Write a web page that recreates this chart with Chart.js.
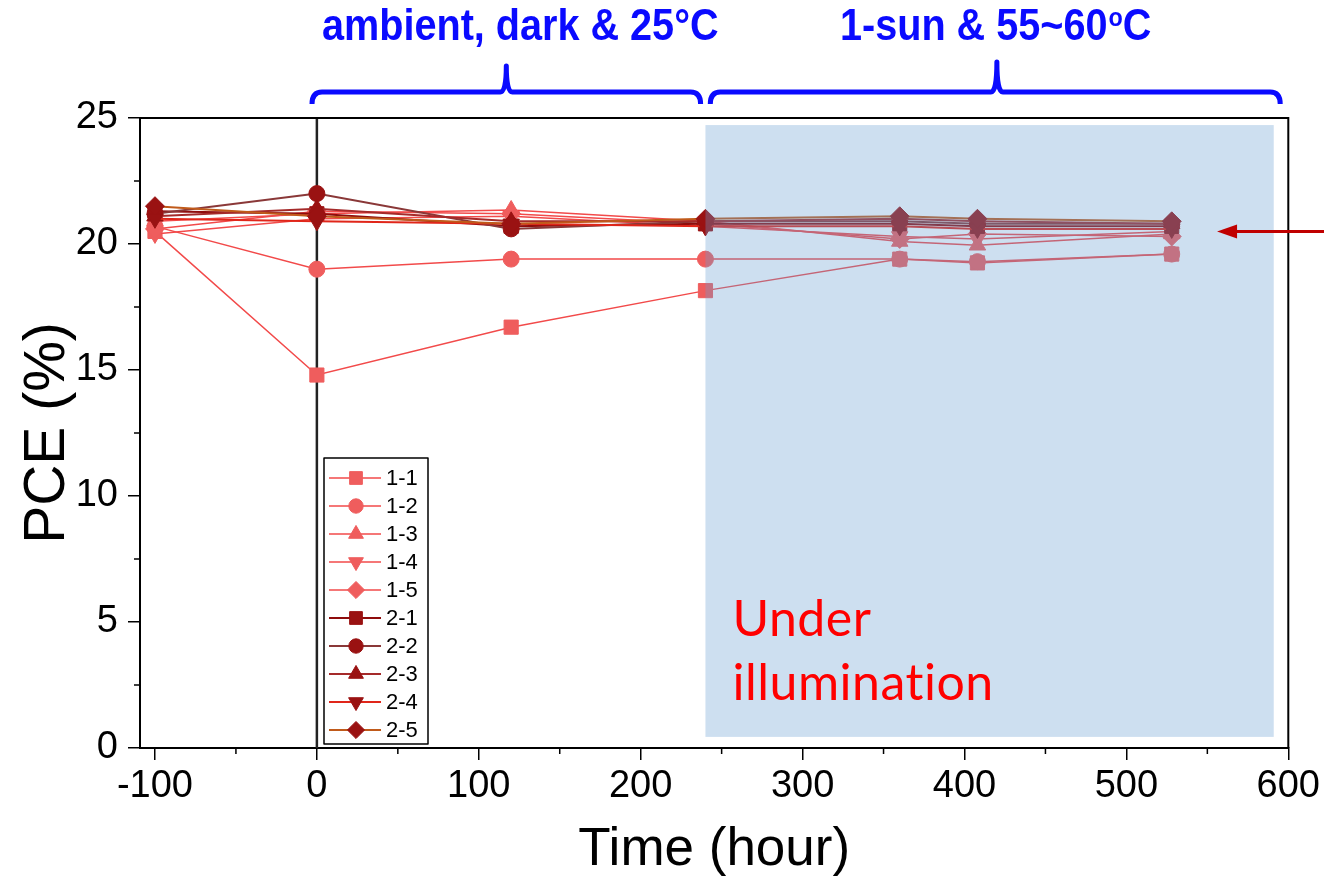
<!DOCTYPE html>
<html>
<head>
<meta charset="utf-8">
<script src="https://cdn.jsdelivr.net/npm/chart.js@4.4.1/dist/chart.umd.min.js"></script>
<style>
  html, body { margin: 0; padding: 0; background: #fff; }
</style>
</head>
<body>
<canvas id="pceChart" width="1324" height="884"></canvas>
<script>
// time points (hour)
const hours = [-100, 0, 120, 240, 360, 408, 528];

// PCE (%) per cell
const pce11 = [20.5, 14.8, 16.7, 18.15, 19.4, 19.25, 19.6];
const pce12 = [20.7, 19.0, 19.4, 19.4, 19.4, 19.3, 19.6];
const pce13 = [20.9, 21.2, 21.35, 20.9, 20.1, 19.95, 20.4];
const pce14 = [20.4, 21.0, 21.1, 20.7, 20.3, 20.2, 20.5];
const pce15 = [20.6, 21.3, 21.2, 20.8, 20.2, 20.4, 20.3];
const pce21 = [21.3, 21.2, 20.7, 20.8, 20.8, 20.7, 20.7];
const pce22 = [21.2, 22.0, 20.6, 20.9, 20.9, 20.8, 20.8];
const pce23 = [21.1, 21.4, 20.9, 20.9, 21.0, 20.9, 20.8];
const pce24 = [21.0, 20.9, 20.8, 20.7, 20.7, 20.6, 20.6];
const pce25 = [21.5, 21.1, 20.8, 21.0, 21.1, 21.0, 20.9];

const cellNames = ["1-1", "1-2", "1-3", "1-4", "1-5", "2-1", "2-2", "2-3", "2-4", "2-5"];
const cellValues = [pce11, pce12, pce13, pce14, pce15, pce21, pce22, pce23, pce24, pce25];

const xTicks = [-100, 0, 100, 200, 300, 400, 500, 600];
const yTicks = [0, 5, 10, 15, 20, 25];

// styles
const markerShapes = ["rect", "circle", "triangle", "triangle", "rectRot"];
const markerRot = [0, 0, 0, 180, 0];
const lineColors = ["#f24a4a", "#f24a4a", "#f24a4a", "#f24a4a", "#f24a4a",
                    "#8e0c0c", "#8a3838", "#a52a2a", "#e0261a", "#c05a1a"];
const pink = "#ef5d5d";
const darkRed = "#9a1212";
const markerSize = { rect: 10, circle: 8, triangle: 9.5, rectRot: 9.5 };

const AXIS_FONT = "'Liberation Sans', Arial, sans-serif";

const datasets = cellNames.map((name, i) => {
  const shape = markerShapes[i % 5];
  const mc = i < 5 ? pink : darkRed;
  return {
    label: name,
    data: hours.map((h, j) => ({ x: h, y: cellValues[i][j] })),
    borderColor: lineColors[i],
    borderWidth: i < 5 ? 1.5 : 2,
    pointStyle: shape,
    pointRotation: markerRot[i % 5],
    pointRadius: markerSize[shape],
    pointBackgroundColor: mc,
    pointBorderColor: mc,
    pointBorderWidth: 1,
    order: cellNames.length - i,
    tension: 0
  };
});

const decor = {
  id: "decor",
  beforeDatasetsDraw(chart) {
    const { ctx, chartArea: a, scales: { x } } = chart;
    ctx.save();
    ctx.strokeStyle = "#222";
    ctx.lineWidth = 2.5;
    ctx.beginPath();
    ctx.moveTo(x.getPixelForValue(0), a.top);
    ctx.lineTo(x.getPixelForValue(0), a.bottom);
    ctx.stroke();
    ctx.restore();
  },
  afterDatasetsDraw(chart) {
    const { ctx, chartArea: a, scales: { x, y } } = chart;
    ctx.save();

    // illuminated period
    const bx1 = x.getPixelForValue(240), bx2 = x.getPixelForValue(591);
    const by1 = y.getPixelForValue(24.72), by2 = y.getPixelForValue(0.44);
    ctx.fillStyle = "rgba(103,158,209,0.33)";
    ctx.fillRect(bx1, by1, bx2 - bx1, by2 - by1);

    ctx.fillStyle = "#ff0000";
    ctx.font = "50px Lato, 'Open Sans', sans-serif";
    ctx.letterSpacing = "0.5px";
    ctx.textAlign = "left";
    ctx.textBaseline = "alphabetic";
    ctx.fillText("Under", bx1 + 27, 636);
    ctx.fillText("illumination", bx1 + 27, 700);
    ctx.letterSpacing = "0px";

    // frame top / right
    ctx.strokeStyle = "#000";
    ctx.lineWidth = 2;
    ctx.beginPath();
    ctx.moveTo(a.left, a.top);
    ctx.lineTo(a.right, a.top);
    ctx.lineTo(a.right, a.bottom);
    ctx.stroke();

    // minor ticks
    ctx.lineWidth = 1.5;
    ctx.beginPath();
    for (let v = -50; v < 600; v += 100) {
      const px = x.getPixelForValue(v);
      ctx.moveTo(px, a.bottom);
      ctx.lineTo(px, a.bottom + 6);
    }
    for (let v = 2.5; v < 25; v += 5) {
      const py = y.getPixelForValue(v);
      ctx.moveTo(a.left, py);
      ctx.lineTo(a.left - 6, py);
    }
    ctx.stroke();

    // brackets
    const blue = "#0a0aff";
    ctx.strokeStyle = blue;
    ctx.lineWidth = 5;
    ctx.lineJoin = "round";
    const bracket = (v1, vm, v2, tipY) => {
      const x1 = x.getPixelForValue(v1), xm = x.getPixelForValue(vm), x2 = x.getPixelForValue(v2);
      const by = 92;
      ctx.beginPath();
      ctx.moveTo(x1, 104);
      ctx.quadraticCurveTo(x1, by, x1 + 10, by);
      ctx.lineTo(xm - 6, by);
      ctx.quadraticCurveTo(xm, by, xm, tipY);
      ctx.quadraticCurveTo(xm, by, xm + 6, by);
      ctx.lineTo(x2 - 10, by);
      ctx.quadraticCurveTo(x2, by, x2, 104);
      ctx.stroke();
    };
    bracket(-3, 117, 237, 66);
    bracket(243, 420, 595, 62);

    // titles of periods
    ctx.fillStyle = blue;
    ctx.textBaseline = "alphabetic";
    const condensed = (txt, left, base, size) => {
      ctx.save();
      ctx.translate(left, base);
      ctx.scale(0.9, 1);
      ctx.font = "bold " + size + "px " + AXIS_FONT;
      ctx.fillText(txt, 0, 0);
      const w = ctx.measureText(txt).width * 0.9;
      ctx.restore();
      return w;
    };
    condensed("ambient, dark & 25\u00B0C", 322, 40, 44);
    let cx = 840;
    cx += condensed("1-sun & 55~60", cx, 40, 44);
    cx += condensed("o", cx + 1, 26, 26) + 1;
    condensed("C", cx, 40, 44);

    // arrow
    const ay = y.getPixelForValue(20.5);
    const ax = x.getPixelForValue(556);
    ctx.strokeStyle = "#c00000";
    ctx.fillStyle = "#c00000";
    ctx.lineWidth = 3;
    ctx.beginPath();
    ctx.moveTo(ax + 14, ay);
    ctx.lineTo(chart.width, ay);
    ctx.stroke();
    ctx.beginPath();
    ctx.moveTo(ax, ay);
    ctx.lineTo(ax + 20, ay - 7);
    ctx.lineTo(ax + 20, ay + 7);
    ctx.closePath();
    ctx.fill();

    // legend
    const lx = 324, ly = 458, lw = 104, lh = 286;
    ctx.fillStyle = "#fff";
    ctx.fillRect(lx, ly, lw, lh);
    ctx.strokeStyle = "#000";
    ctx.lineWidth = 1.5;
    ctx.strokeRect(lx, ly, lw, lh);
    ctx.font = "22px " + AXIS_FONT;
    ctx.textBaseline = "middle";
    chart.data.datasets.forEach((ds, i) => {
      const cy = ly + 20 + i * 28;
      ctx.strokeStyle = ds.borderColor;
      ctx.lineWidth = ds.borderWidth;
      ctx.beginPath();
      ctx.moveTo(lx + 5, cy);
      ctx.lineTo(lx + 57, cy);
      ctx.stroke();
      ctx.fillStyle = ds.pointBackgroundColor;
      ctx.strokeStyle = ds.pointBorderColor;
      ctx.lineWidth = 1;
      Chart.helpers.drawPoint(ctx, {
        pointStyle: ds.pointStyle,
        rotation: ds.pointRotation,
        radius: ds.pointRadius * 0.9,
        borderWidth: 1
      }, lx + 32, cy);
      ctx.fillStyle = "#000";
      ctx.fillText(ds.label, lx + 62, cy + 1);
    });

    ctx.restore();
  }
};

new Chart(document.getElementById("pceChart"), {
  type: "line",
  data: { datasets },
  options: {
    responsive: false,
    animation: false,
    devicePixelRatio: 1,
    layout: { padding: { top: 118, right: 34, left: 0, bottom: 0 } },
    plugins: { legend: { display: false }, tooltip: { enabled: false } },
    scales: {
      x: {
        type: "linear",
        min: -109.25,
        max: 600,
        afterBuildTicks: (s) => { s.ticks = xTicks.map((v) => ({ value: v })); },
        afterFit: (s) => { s.height = 136; },
        ticks: {
          autoSkip: false, maxRotation: 0, color: "#000", padding: 4,
          font: { family: AXIS_FONT, size: 38 }
        },
        grid: { drawOnChartArea: false, tickLength: 12, color: "#000", lineWidth: 1.5 },
        border: { color: "#000", width: 2 },
        title: {
          display: true, text: "Time (hour)", color: "#000",
          font: { family: AXIS_FONT, size: 53 }, padding: { top: 0, bottom: 2 }
        }
      },
      y: {
        min: 0,
        max: 25,
        afterBuildTicks: (s) => { s.ticks = yTicks.map((v) => ({ value: v })); },
        afterFit: (s) => { s.width = 140; },
        ticks: { color: "#000", padding: 10, font: { family: AXIS_FONT, size: 38 } },
        grid: { drawOnChartArea: false, tickLength: 12, color: "#000", lineWidth: 1.5 },
        border: { color: "#000", width: 2 },
        title: {
          display: true, text: "PCE (%)", color: "#000",
          font: { family: AXIS_FONT, size: 57 }, padding: { top: 14, bottom: 0 }
        }
      }
    }
  },
  plugins: [decor]
});
</script>
</body>
</html>
